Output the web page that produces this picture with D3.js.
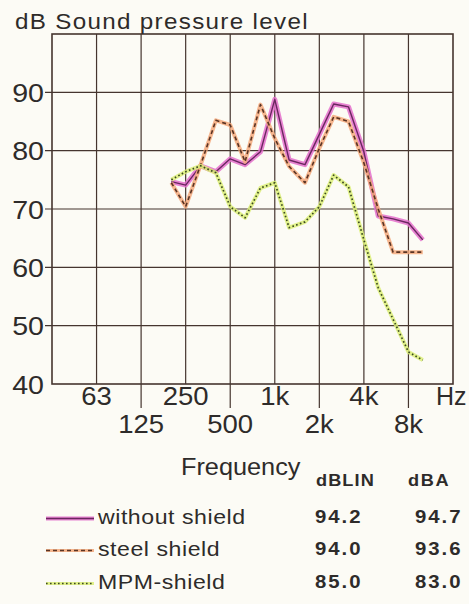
<!DOCTYPE html>
<html>
<head>
<meta charset="utf-8">
<script src="https://cdn.jsdelivr.net/npm/d3@7"></script>
<style>
  html, body { margin: 0; padding: 0; background: #fcfbf5; }
  svg { display: block; }
</style>
</head>
<body>
<div id="chart"></div>
<script>
// third-octave bands
const bands = [200, 250, 315, 400, 500, 630, 800, 1000, 1250, 1600, 2000, 2500, 3150, 4000, 5000, 6300, 8000, 10000];
const withoutShield = [74.7, 74.1, 77.4, 76.4, 78.6, 77.6, 79.8, 88.8, 78.4, 77.6, 82.8, 88.0, 87.5, 79.8, 68.8, 68.3, 67.6, 64.7];
const steelShield   = [74.5, 70.4, 77.5, 85.2, 84.4, 78.1, 87.9, 82.1, 77.3, 74.5, 80.4, 85.8, 85.0, 77.9, 70.0, 62.6, 62.6, 62.6];
const mpmShield     = [75.0, 76.4, 77.4, 76.2, 70.4, 68.5, 73.6, 74.5, 66.8, 67.8, 70.4, 75.8, 73.8, 64.7, 56.5, 51.1, 45.5, 44.1];

const octaveTicks = [62.5, 125, 250, 500, 1000, 2000, 4000, 8000];
const octaveLabels = ["63", "125", "250", "500", "1k", "2k", "4k", "8k"];
const dbTicks = [40, 50, 60, 70, 80, 90];

const seriesNames = ["without shield", "steel shield", "MPM-shield"];
const dBLIN = ["94.2", "94.0", "85.0"];
const dBA = ["94.7", "93.6", "83.0"];

const W = 469, H = 604;
const INK = "#45352f";
const TEXT = "#2e2b2a";

const styles = [
  { under: "#e46fcb", underW: 5, top: "#6b2760", topW: 1.4, dash: null },
  { under: "#f4a97c", underW: 4, top: "#5a3424", topW: 1.6, dash: "4,3" },
  { under: "#dcef78", underW: 4, top: "#3c4a22", topW: 1.7, dash: "1.6,2.4" }
];

const x = d3.scaleLog().base(2).domain([31.25, 16000]).range([52, 453]);
const y = d3.scaleLinear().domain([40, 100]).range([384, 34]);

const svg = d3.select("#chart").append("svg")
  .attr("width", W).attr("height", H);

svg.append("rect").attr("width", W).attr("height", H).attr("fill", "#fcfbf5");

// the printed type is a bit wider than Liberation Sans, so stretch it a little
function label(parent, tx, ty, txt, size, anchor, opts = {}) {
  return parent.append("text")
    .attr("transform", `translate(${tx},${ty}) scale(${opts.sx || 1.1},1)`)
    .attr("text-anchor", anchor || "start")
    .style("font-family", "'Liberation Sans', Arial, sans-serif")
    .style("font-size", size + "px")
    .style("font-weight", opts.bold ? "700" : "400")
    .style("letter-spacing", (opts.ls || 0) + "px")
    .style("fill", TEXT)
    .text(txt);
}

// ── grid + frame ─────────────────────────────────────────
const grid = svg.append("g");
dbTicks.slice(1).forEach(v => {
  grid.append("line")
    .attr("x1", x(31.25) - 7).attr("x2", x(16000))
    .attr("y1", y(v)).attr("y2", y(v))
    .attr("stroke", INK).attr("stroke-width", 1.2);
});
octaveTicks.forEach((f, i) => {
  grid.append("line")
    .attr("x1", x(f)).attr("x2", x(f))
    .attr("y1", y(100)).attr("y2", i % 2 ? y(40) + 24 : y(40))
    .attr("stroke", INK).attr("stroke-width", 1.2);
});
grid.append("rect")
  .attr("x", x(31.25)).attr("y", y(100))
  .attr("width", x(16000) - x(31.25)).attr("height", y(40) - y(100))
  .attr("fill", "none").attr("stroke", INK).attr("stroke-width", 1.6);

// ── axis labels ──────────────────────────────────────────
label(svg, 15, 29, "dB Sound pressure level", 22, "start", { ls: 1.2 });

dbTicks.forEach(v => label(svg, 44, y(v) + 9.5, String(v), 26, "end"));

octaveTicks.forEach((f, i) => {
  label(svg, x(f), i % 2 ? 433 : 405, octaveLabels[i], 25, "middle");
});
label(svg, 436, 405, "Hz", 25, "start", { sx: 1.0 });

label(svg, 181, 475, "Frequency", 23, "start");
label(svg, 316, 486, "dBLIN", 16.5, "start", { bold: true, ls: 1 });
label(svg, 408, 486, "dBA", 16.5, "start", { bold: true, ls: 1.5 });

// ── curves ───────────────────────────────────────────────
const line = d3.line()
  .x(d => x(d[0]))
  .y(d => y(d[1]));

[withoutShield, steelShield, mpmShield].forEach((vals, i) => {
  const pts = bands.map((f, j) => [f, vals[j]]);
  const s = styles[i];
  svg.append("path").datum(pts)
    .attr("d", line).attr("fill", "none")
    .attr("stroke", s.under).attr("stroke-width", s.underW)
    .attr("stroke-linejoin", "round").attr("opacity", 0.85);
  svg.append("path").datum(pts)
    .attr("d", line).attr("fill", "none")
    .attr("stroke", s.top).attr("stroke-width", s.topW)
    .attr("stroke-linejoin", "round")
    .attr("stroke-dasharray", s.dash);
});

// ── legend with level values ─────────────────────────────
const rowY = [524, 556, 589];
const leg = svg.append("g");
seriesNames.forEach((name, i) => {
  const s = styles[i];
  const ly = rowY[i] - 5.5;
  leg.append("line")
    .attr("x1", 46).attr("x2", 94).attr("y1", ly).attr("y2", ly)
    .attr("stroke", s.under).attr("stroke-width", s.underW - 1).attr("opacity", 0.85);
  leg.append("line")
    .attr("x1", 46).attr("x2", 94).attr("y1", ly).attr("y2", ly)
    .attr("stroke", s.top).attr("stroke-width", s.topW)
    .attr("stroke-dasharray", s.dash);
  label(leg, 98, rowY[i], name, 21, "start", { ls: 0.5 });
  label(leg, 315, rowY[i] - 1, dBLIN[i], 18.5, "start", { bold: true, ls: 1.8 });
  label(leg, 415, rowY[i] - 1, dBA[i], 18.5, "start", { bold: true, ls: 1.8 });
});
</script>
</body>
</html>
